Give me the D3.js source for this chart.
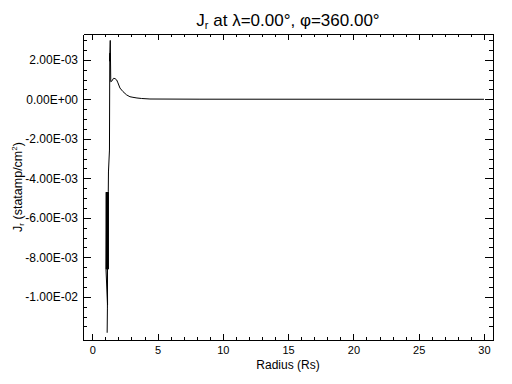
<!DOCTYPE html>
<html>
<head>
<meta charset="utf-8">
<script src="https://cdn.jsdelivr.net/npm/d3@7"></script>
<style>
  body { margin: 0; background: #fff; }
  svg { display: block; }
  .axis text { font-family: "Liberation Sans", "DejaVu Sans", sans-serif; font-size: 12px; fill: #000; }
  .axis.x text { font-size: 11px; }
  .axis path, .axis line { stroke: #000; shape-rendering: crispEdges; }
</style>
</head>
<body>
<div id="chart"></div>
<script>
// Data________________________________________________________
// radius (Rs) and J_r (statamp/cm^2), in plotting order
const radius = [1.14, 1.16, 1.16, 1.17,
  1.05, 1.07, 1.08, 1.10, 1.11, 1.13, 1.14, 1.16, 1.17, 1.19, 1.20, 1.21, 1.22,
  1.225, 1.24, 1.317, 1.34, 1.355, 1.33, 1.378, 1.417, 1.508, 1.623, 1.738,
  1.868, 1.968, 2.121, 2.35, 2.634, 2.887, 3.116, 3.423, 3.783, 4.418, 8.247, 30];
const jr = [-11.82e-3, -10.57e-3, -8.6e-3, -10.4e-3,
  -8.6e-3, -4.7e-3, -8.6e-3, -4.7e-3, -8.6e-3, -4.7e-3, -8.6e-3, -4.7e-3, -8.6e-3, -4.7e-3, -8.6e-3, -4.7e-3, -8.6e-3,
  -4.69e-3, -3.68e-3, -2.57e-3, 1.99e-3, 2.34e-3, 1.93e-3, 2.98e-3, 0.89e-3, 0.93e-3, 1.06e-3, 1.05e-3,
  0.98e-3, 0.83e-3, 0.57e-3, 0.39e-3, 0.22e-3, 0.13e-3, 0.10e-3, 0.066e-3, 0.041e-3, 0.015e-3, 0.005e-3, 0];

const xTicks = [0, 5, 10, 15, 20, 25, 30];
const xTickLabels = ["0", "5", "10", "15", "20", "25", "30"];
const yTicks = [2e-3, 0, -2e-3, -4e-3, -6e-3, -8e-3, -1e-2];
const yTickLabels = ["2.00E-03", "0.00E+00", "-2.00E-03", "-4.00E-03", "-6.00E-03", "-8.00E-03", "-1.00E-02"];

// Layout_____________________________________________________
const width = 512, height = 384;
const plotLeft = 83, plotRight = 493, plotTop = 34, plotBottom = 340;

const xScale = d3.scaleLinear().domain([-0.71, 30.69]).range([plotLeft, plotRight]);
const yScale = d3.scaleLinear().domain([-12.187e-3, 3.306e-3]).range([plotBottom, plotTop]);

const xMinor = d3.range(0, 31, 1).filter(v => v % 5 !== 0);
const yMinor = d3.range(-24, 7).filter(v => v % 4 !== 0).map(v => v * 5e-4);

const svg = d3.select('#chart')
    .append('svg')
    .attr('width', width)
    .attr('height', height);

// Axes (box with ticks on all four sides, pointing inward)
svg.append('g').attr('class', 'axis x').attr('transform', `translate(0, ${plotBottom})`)
    .call(d3.axisBottom(xScale).tickValues(xTicks).tickSizeInner(-6).tickSizeOuter(0).tickPadding(6)
        .tickFormat((d, i) => xTickLabels[i]));
svg.append('g').attr('class', 'axis').attr('transform', `translate(0, ${plotBottom})`)
    .call(d3.axisBottom(xScale).tickValues(xMinor).tickSizeInner(-3).tickSizeOuter(0).tickFormat(''))
    .select('.domain').remove();
svg.append('g').attr('class', 'axis').attr('transform', `translate(0, ${plotTop})`)
    .call(d3.axisTop(xScale).tickValues(xTicks).tickSizeInner(-6).tickSizeOuter(0).tickFormat(''));
svg.append('g').attr('class', 'axis').attr('transform', `translate(0, ${plotTop})`)
    .call(d3.axisTop(xScale).tickValues(xMinor).tickSizeInner(-3).tickSizeOuter(0).tickFormat(''))
    .select('.domain').remove();

svg.append('g').attr('class', 'axis').attr('transform', `translate(${plotLeft}, 0)`)
    .call(d3.axisLeft(yScale).tickValues(yTicks).tickSizeInner(-8).tickSizeOuter(0).tickPadding(5)
        .tickFormat((d, i) => yTickLabels[i]));
svg.append('g').attr('class', 'axis').attr('transform', `translate(${plotLeft}, 0)`)
    .call(d3.axisLeft(yScale).tickValues(yMinor).tickSizeInner(-4).tickSizeOuter(0).tickFormat(''))
    .select('.domain').remove();
svg.append('g').attr('class', 'axis').attr('transform', `translate(${plotRight}, 0)`)
    .call(d3.axisRight(yScale).tickValues(yTicks).tickSizeInner(-8).tickSizeOuter(0).tickFormat(''));
svg.append('g').attr('class', 'axis').attr('transform', `translate(${plotRight}, 0)`)
    .call(d3.axisRight(yScale).tickValues(yMinor).tickSizeInner(-4).tickSizeOuter(0).tickFormat(''))
    .select('.domain').remove();

// Curve
const line = d3.line()
    .x((d, i) => xScale(radius[i]))
    .y(d => yScale(d));
svg.append('path')
    .datum(jr)
    .attr('d', line)
    .attr('fill', 'none')
    .attr('stroke', '#000')
    .attr('stroke-width', 1);

// Titles
const font = '"Liberation Sans", "DejaVu Sans", sans-serif';
const title = svg.append('text')
    .attr('x', (plotLeft + plotRight) / 2)
    .attr('y', 26)
    .attr('text-anchor', 'middle')
    .style('font-family', font)
    .style('font-size', '17px');
title.append('tspan').text('J');
title.append('tspan').attr('font-size', '11px').attr('dy', 3).text('r');
title.append('tspan').attr('dy', -3).text(' at λ=0.00°, φ=360.00°');

svg.append('text')
    .attr('x', (plotLeft + plotRight) / 2)
    .attr('y', 369)
    .attr('text-anchor', 'middle')
    .style('font-family', font)
    .style('font-size', '12px')
    .text('Radius (Rs)');

const ylab = svg.append('text')
    .attr('transform', `translate(22, ${(plotTop + plotBottom) / 2}) rotate(-90)`)
    .attr('text-anchor', 'middle')
    .style('font-family', font)
    .style('font-size', '12.5px');
ylab.append('tspan').text('J');
ylab.append('tspan').attr('font-size', '8px').attr('dy', 2).text('r');
ylab.append('tspan').attr('dy', -2).text(' (statamp/cm');
ylab.append('tspan').attr('font-size', '8px').attr('dy', -5).text('2');
ylab.append('tspan').attr('dy', 5).text(')');
</script>
</body>
</html>
